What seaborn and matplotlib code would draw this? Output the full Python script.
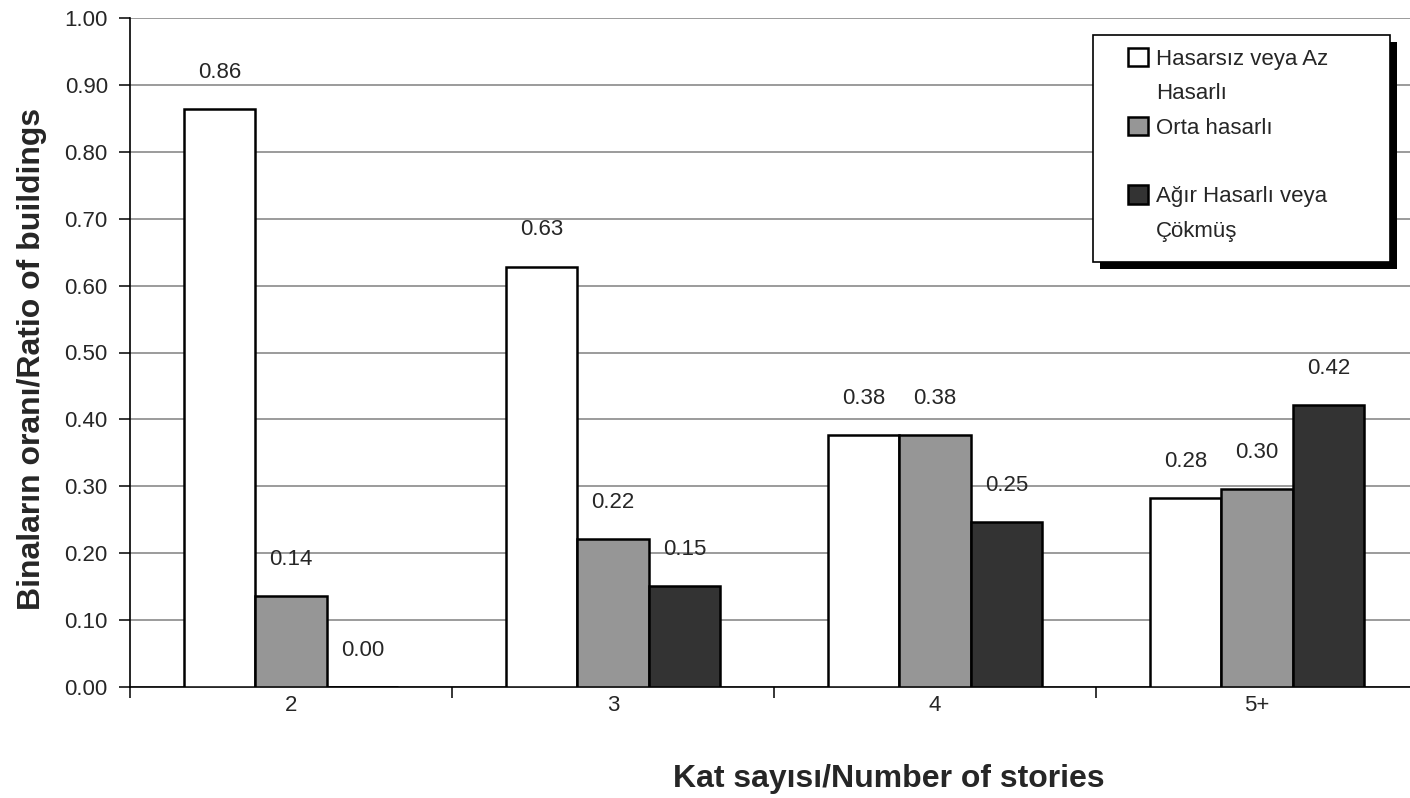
import pandas as pd
import matplotlib.pyplot as plt
import matplotlib.patches as mpatches
from matplotlib.ticker import FixedLocator
import seaborn as sns

# chart data
stories = ["2", "3", "4", "5+"]
damage_levels = ["Hasarsız veya Az Hasarlı", "Orta hasarlı", "Ağır Hasarlı veya Çökmüş"]
light = [0.864, 0.628, 0.376, 0.282]
moderate = [0.136, 0.221, 0.376, 0.296]
heavy = [0.0, 0.151, 0.246, 0.421]
bar_colors = ["#ffffff", "#969696", "#333333"]

df = pd.DataFrame({
    "kat": stories * 3,
    "oran": light + moderate + heavy,
    "hasar": [damage_levels[0]] * 4 + [damage_levels[1]] * 4 + [damage_levels[2]] * 4,
})

sns.set_style("ticks")
plt.rcParams["font.family"] = ["Liberation Sans", "DejaVu Sans"]

W, H = 1410, 798
fig = plt.figure(figsize=(W / 100, H / 100), dpi=100)
ax = fig.add_axes([130 / W, 1 - 687 / H, 1288 / W, 669 / H])

sns.barplot(data=df, x="kat", y="oran", hue="hasar", order=stories, hue_order=damage_levels,
            palette=bar_colors, width=0.667, gap=0, edgecolor="black", linewidth=1.8,
            legend=False, ax=ax, zorder=3)

for cont in ax.containers:
    ax.bar_label(cont, fmt="%.2f", padding=19, fontsize=16)

ax.set_ylim(0, 1.0)
ax.set_xlim(-0.5, 3.5)
ax.set_yticks([i / 10 for i in range(11)])
ax.set_yticklabels([f"{i / 10:.2f}" for i in range(11)], fontsize=16)
ax.yaxis.grid(True, color="#808080", linewidth=1.1)
ax.set_axisbelow(True)

# category labels at centres, tick marks between categories
ax.tick_params(axis="x", which="major", length=0, pad=6, labelsize=16)
ax.xaxis.set_minor_locator(FixedLocator([-0.5, 0.5, 1.5, 2.5, 3.5]))
ax.tick_params(axis="x", which="minor", length=8, width=1.1, color="black", direction="out")
ax.tick_params(axis="y", length=8, width=1.1, color="black", direction="out", pad=8)

sns.despine(ax=ax, top=True, right=True)
for side in ["left", "bottom"]:
    ax.spines[side].set_color("black")
    ax.spines[side].set_linewidth(1.2)

ax.set_xlabel("Kat sayısı/Number of stories", fontsize=23, fontweight="bold")
ax.set_ylabel("Binaların oranı/Ratio of buildings", fontsize=23, fontweight="bold")
ax.xaxis.label.set_va("center")
ax.yaxis.label.set_va("center")
ax.xaxis.set_label_coords((889 - 130) / 1288, (687 - 779) / 669)
ax.yaxis.set_label_coords((32 - 130) / 1288, (687 - 359) / 669)

# legend box with solid shadow
fig.patches.append(mpatches.Rectangle((1100 / W, 1 - 269 / H), 297 / W, 227 / H,
                                      transform=fig.transFigure, facecolor="black",
                                      edgecolor="none", zorder=4))
fig.patches.append(mpatches.Rectangle((1093 / W, 1 - 262 / H), 297 / W, 227 / H,
                                      transform=fig.transFigure, facecolor="white",
                                      edgecolor="black", linewidth=1.2, zorder=5))

blank = mpatches.Patch(facecolor="none", edgecolor="none")
handles = [mpatches.Patch(facecolor=bar_colors[0], edgecolor="black", linewidth=1.8), blank,
           mpatches.Patch(facecolor=bar_colors[1], edgecolor="black", linewidth=1.8), blank,
           mpatches.Patch(facecolor=bar_colors[2], edgecolor="black", linewidth=1.8), blank]
labels = ["Hasarsız veya Az", "Hasarlı", "Orta hasarlı", "", "Ağır Hasarlı veya", "Çökmüş"]
leg = fig.legend(handles, labels, loc="upper left", bbox_to_anchor=(1128 / W, 1 - 48 / H),
                 fontsize=16, frameon=False, borderpad=0, borderaxespad=0,
                 handlelength=0.9, handleheight=0.9, handletextpad=0.35, labelspacing=0.56)
leg.set_zorder(6)

fig.savefig("out.png", dpi=100)
